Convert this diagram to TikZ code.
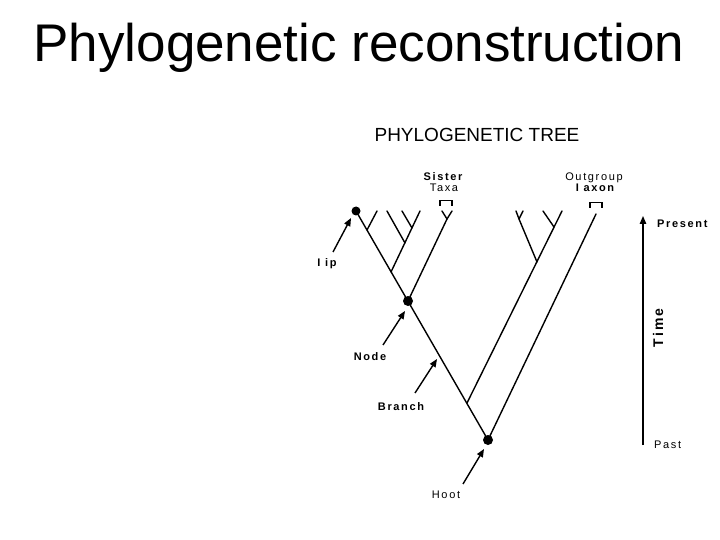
\documentclass[tikz,border=0pt]{standalone}
\usepackage{fontspec}
\setmainfont{Liberation Sans}
\newfontfamily\lblfont[LetterSpace=15]{Liberation Sans}
\usetikzlibrary{arrows.meta}
\tikzset{
  br/.style={line width=1.4pt, line cap=round},
  dotn/.style={circle, fill=black, inner sep=0pt, minimum size=#1},
  lbl/.style={font=\lblfont\fontsize{11}{13}\selectfont, inner sep=0pt, anchor=base},
  lblb/.style={lbl, font=\lblfont\bfseries\fontsize{11}{13}\selectfont},
  ptr/.style={line width=1.4pt, -{Triangle[length=8pt,width=6.5pt]}},
  brk/.style={line width=1.8pt}
}
\begin{document}
\begin{tikzpicture}[x=1pt,y=-1pt]
\useasboundingbox (0,0) rectangle (720,540);
% titles
\node[inner sep=0pt, anchor=base, font=\fontsize{53}{60}\selectfont] (title) at (359,62) {Phylogenetic reconstruction};
\node[inner sep=0pt, anchor=base, font=\fontsize{19}{22}\selectfont] (ttl2) at (477,142) {PHYLOGENETIC TREE};
% main tree coordinates
\coordinate (tip1) at (356,211);
\coordinate (root) at (488,440);
\coordinate (node1) at (408,301);
\coordinate (j1) at (367,230);
\coordinate (t2) at (377,211);
\coordinate (j2) at (391,272);
\coordinate (t5) at (420,211);
\coordinate (j3) at (405,243);
\coordinate (t3) at (387,211);
\coordinate (j4) at (412,228);
\coordinate (t4) at (402,211);
\coordinate (sj) at (447,219);
\coordinate (sa) at (442,211);
\coordinate (sb) at (452,211);
\coordinate (j5) at (467,403);
\coordinate (t9) at (562,211);
\coordinate (j6) at (537,262);
\coordinate (j7) at (554,227);
\coordinate (t8) at (543,211);
\coordinate (j8) at (519,219);
\coordinate (t6) at (516,211);
\coordinate (t7) at (523,211);
\coordinate (og) at (596,214);
% branches
\draw[br] (tip1) -- (root);
\draw[br] (j1) -- (t2);
\draw[br] (j2) -- (t5);
\draw[br] (j3) -- (t3);
\draw[br] (j4) -- (t4);
\draw[br] (node1) -- (sj) -- (sa);
\draw[br] (sj) -- (sb);
\draw[br] (j5) -- (t9);
\draw[br] (j7) -- (t8);
\draw[br] (j6) -- (j8) -- (t6);
\draw[br] (j8) -- (t7);
\draw[br] (root) -- (og);
% brackets
\draw[brk] (440,206) -- (440,200.5) -- (452,200.5) -- (452,206);
\draw[brk] (590,208) -- (590,202.5) -- (602,202.5) -- (602,208);
% dots
\node[dotn=9pt] (dtip) at (tip1) {};
\node[dotn=10pt] (dnode) at (node1) {};
\node[dotn=10pt] (droot) at (root) {};
% labels
\node[lblb] (sister) at (443,181) {Sister};
\node[lbl] (taxa) at (444,192) {Taxa};
\node[lbl] (outg) at (594,181) {Outgroup};
\node[lblb] (taxon) at (595,192) {I axon};
\node[lblb] (ltip) at (327,266) {I ip};
\node[lblb] (lnode) at (370,360) {Node};
\node[lblb] (lbranch) at (401,410) {Branch};
\node[lbl] (lroot) at (446,498) {Hoot};
\node[lblb, anchor=base west] (present) at (657,227) {Present};
\node[lbl, anchor=base west] (past) at (654,448) {Past};
\node[inner sep=0pt, rotate=90, font=\lblfont\bfseries\fontsize{14}{16}\selectfont] (time) at (658,328) {Time};
% pointer arrows
\coordinate (atip) at (333,252);
\coordinate (etip) at (351,218);
\coordinate (anode) at (383,345);
\coordinate (enode) at (405,311);
\coordinate (abr) at (415,393);
\coordinate (ebr) at (437,359);
\coordinate (art) at (463,484);
\coordinate (ert) at (484,449);
\draw[ptr] (atip) -- (etip);
\draw[ptr] (anode) -- (enode);
\draw[ptr] (abr) -- (ebr);
\draw[ptr] (art) -- (ert);
% time axis
\coordinate (tpast) at (643,445);
\coordinate (tpres) at (643,216);
\draw[ptr] (tpast) -- (tpres);
\end{tikzpicture}
\end{document}
